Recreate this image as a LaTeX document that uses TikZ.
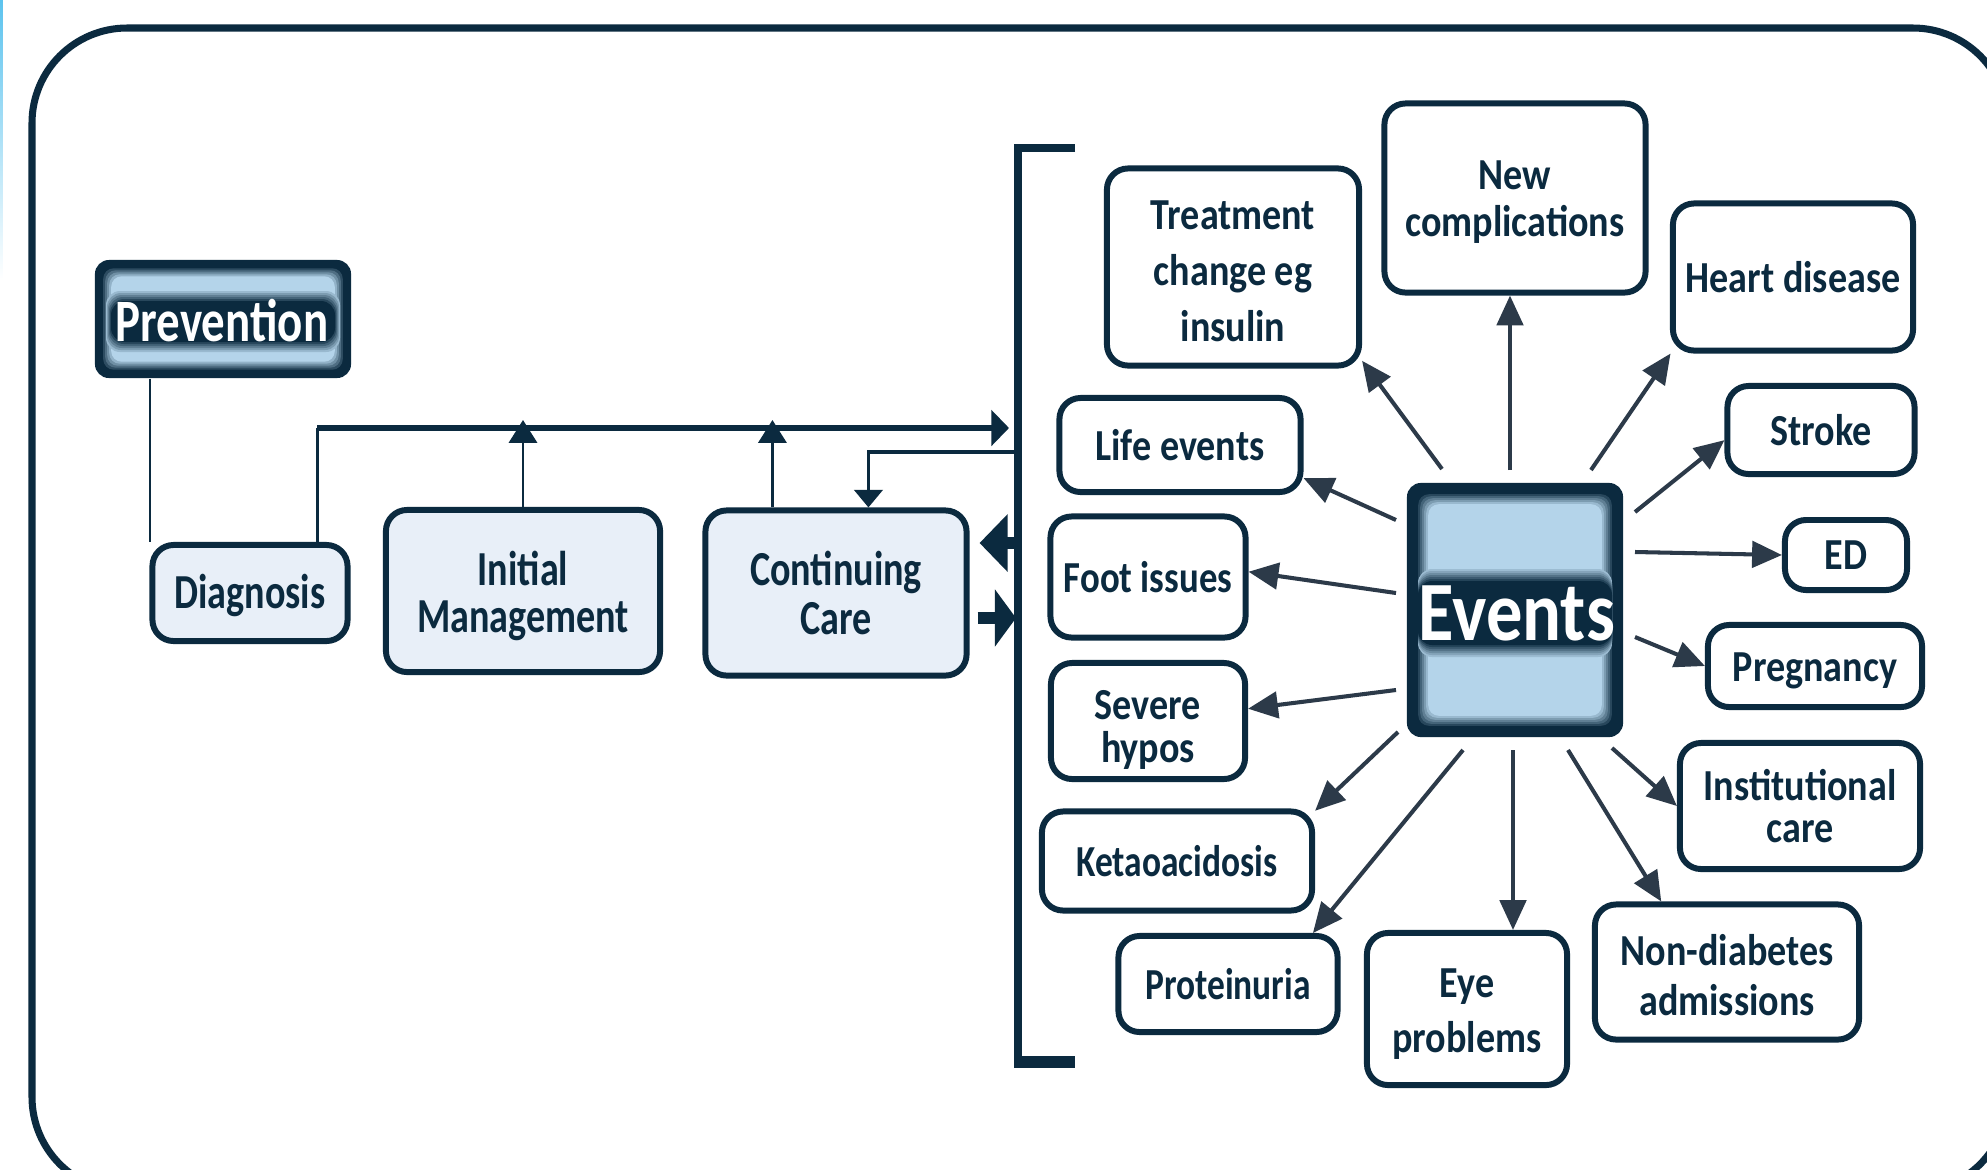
\documentclass[tikz,border=0pt]{standalone}
\usepackage{fontspec}
\setmainfont{Carlito}[FakeStretch=0.86]
\newfontfamily\narrowA{Carlito}[FakeStretch=0.78]
\newfontfamily\narrowB{Carlito}[FakeStretch=0.80]
\newfontfamily\narrowC{Carlito}[FakeStretch=0.83]
\usetikzlibrary{arrows.meta,calc}
\definecolor{navy}{HTML}{0B2A3F}
\definecolor{arrowc}{HTML}{2C3A49}
\definecolor{skyb}{HTML}{B4D4EA}
\definecolor{paleb}{HTML}{E8EFF8}
\definecolor{stripb}{HTML}{5CC3EE}
\newcommand\efont[1]{\fontsize{12.6pt}{#1}\selectfont\bfseries}
\newcommand\lfont[1]{\narrowA\fontsize{13.9pt}{#1}\selectfont\bfseries}
\newcommand\dn[1]{\rule{0pt}{\dimexpr\fontcharht\font`l+#1\relax}}
\tikzset{
  ebox/.style={draw=navy, line width=1.7pt, rounded corners=6pt, fill=white,
    align=center, inner sep=0pt, text=navy, font=\efont{13.6pt}},
  lbox/.style={ebox, fill=paleb, font=\lfont{13.5pt}},
  evarrow/.style={draw=arrowc, line width=1.15pt, -{Triangle[length=8.5pt,width=7.5pt]}},
  upar/.style={draw=navy, line width=0.85pt, -{Triangle[length=6.5pt,width=8pt]}},
}
\begin{document}
\begin{tikzpicture}[x=0.01cm,y=-0.01cm]
\useasboundingbox (0,0) rectangle (1987,1169);
\fill[white] (0,0) rectangle (1987,1169);
\shade[top color=stripb, bottom color=white] (0,0) rectangle (3,280);
\draw[navy, line width=2pt, rounded corners=0.95cm] (32,28) rectangle (2008,1192);

% ---------- Prevention ----------
\node[fill=navy, rounded corners=4pt, minimum width=2.56cm, minimum height=1.18cm, inner sep=0pt] (prev) at (223,319) {};
\foreach \k in {0,...,5} {
  \pgfmathtruncatemacro\p{100-\k*100/5}
  \fill[navy!\p!skyb, rounded corners=3pt] ($(prev.north west)+(7+\k*2,7+\k*2)$) rectangle ($(prev.south east)+(-7-\k*2,-7-\k*2)$);
}
\foreach \k in {0,...,5} {
  \pgfmathtruncatemacro\p{(\k+1)*100/6}
  \fill[navy!\p!skyb, rounded corners=4pt] (106+\k,291+\k*2) rectangle (340-\k,352-\k*2);
}
\node[text=white, font={\narrowA\fontsize{17.1pt}{18pt}\selectfont\bfseries}, inner sep=0pt] (prevtxt) at (222,321) {Prevention};

% ---------- left boxes ----------
\node[lbox, minimum width=1.95cm, minimum height=0.96cm] (diag) at (250,593) {\dn{1.4pt}Diagnosis};
\node[lbox, minimum width=2.74cm, minimum height=1.62cm, font=\lfont{13.4pt}] (im) at (523,591) {\dn{2.8pt}Initial\\Management};
\node[lbox, minimum width=2.61cm, minimum height=1.65cm, font=\lfont{13.7pt}] (cc) at (836,593) {Continuing\\Care};

% ---------- bracket ----------
\draw[navy, line width=2.4pt] (1075,148) -- (1018,148) -- (1018,1062) -- (1075,1062);
\draw[navy, line width=3.4pt] (1014,1062) -- (1075,1062);
\coordinate (bA) at (1009,428);
\coordinate (bB) at (1014,452);
\coordinate (bL) at (1015,543);
\coordinate (bR) at (1016,618);

% ---------- left connectors ----------
\coordinate (p1) at ($(prev.south west)+(56,0)$);
\draw[navy, line width=0.7pt] (p1) -- (p1 |- diag.north);
\coordinate (d1) at ($(diag.north west)+(168,0)$);
\draw[navy, line width=0.7pt] (d1) -- (d1 |- bA);
\draw[navy, line width=1.7pt, -{Triangle[length=5pt,width=10pt]}] (d1 |- bA) -- (bA);
\draw[upar] (im.north) -- ($(im.north |- bA)+(0,-8)$);
\coordinate (c1) at ($(cc.north west)+(70,0)$);
\draw[upar] (c1) -- ($(c1 |- bA)+(0,-8)$);
\draw[navy, line width=1.1pt, -{Triangle[length=5pt,width=8pt]}] (bB) -| ($(cc.north west)+(166,0)$);
\draw[navy, line width=3.4pt, -{Triangle[length=8pt,width=16pt]}] (bL) -- ($(cc.east |- bL)+(10,0)$);
\draw[navy, line width=3.4pt, -{Triangle[length=6pt,width=16pt]}] ($(cc.east |- bR)+(8,0)$) -- (bR);

% ---------- Events ----------
\node[fill=navy, rounded corners=4pt, minimum width=2.16cm, minimum height=2.54cm, inner sep=0pt] (ev) at (1515,610) {};
\foreach \k in {0,...,6} {
  \pgfmathtruncatemacro\p{100-\k*100/6}
  \fill[navy!\p!skyb, rounded corners=3pt] ($(ev.north west)+(10+\k*2,10+\k*2)$) rectangle ($(ev.south east)+(-10-\k*2,-10-\k*2)$);
}
\foreach \k in {0,...,6} {
  \pgfmathtruncatemacro\p{(\k+1)*100/7}
  \fill[navy!\p!skyb, rounded corners=4pt] (1418,569+\k*2) rectangle (1612,657-\k*2);
}
\node[text=white, font=\fontsize{24pt}{24pt}\selectfont\bfseries, inner sep=0pt] (evtxt) at (1517,613) {Events};

% ---------- event boxes ----------
\node[ebox, minimum width=2.52cm, minimum height=1.97cm, font=\efont{15.9pt}] (treat) at (1233,267) {\dn{2pt}Treatment\\change eg\\insulin};
\node[ebox, minimum width=2.61cm, minimum height=1.89cm, font=\efont{13.4pt}] (newc) at (1515,198) {\dn{1.5pt}New\\complications};
\node[ebox, minimum width=2.40cm, minimum height=1.47cm] (heart) at (1793,277) {Heart disease};
\node[ebox, minimum width=1.87cm, minimum height=0.88cm] (stroke) at (1821,430) {Stroke};
\node[ebox, minimum width=1.22cm, minimum height=0.70cm] (ed) at (1846,555) {ED};
\node[ebox, minimum width=2.14cm, minimum height=0.82cm] (preg) at (1815,666) {\dn{2pt}Pregnancy};
\node[ebox, minimum width=2.40cm, minimum height=1.26cm, font=\efont{12pt}] (inst) at (1800,806) {Institutional\\care};
\node[ebox, minimum width=2.64cm, minimum height=1.35cm, font=\efont{14.2pt}] (nond) at (1727,972) {\dn{1.7pt}Non-diabetes\\admissions};
\node[ebox, minimum width=2.00cm, minimum height=1.52cm, font=\efont{15.6pt}] (eye) at (1467,1009) {\dn{2pt}Eye\\problems};
\node[ebox, minimum width=2.19cm, minimum height=0.96cm, font={\narrowB\efont{13.6pt}}] (prot) at (1228,984) {Proteinuria};
\node[ebox, minimum width=2.70cm, minimum height=0.99cm, font={\narrowB\efont{13.6pt}}] (keto) at (1177,861) {Ketaoacidosis};
\node[ebox, minimum width=1.94cm, minimum height=1.16cm, font=\efont{12.2pt}] (severe) at (1148,721) {\dn{4.3pt}Severe\\hypos};
\node[ebox, minimum width=1.95cm, minimum height=1.21cm, font={\narrowC\efont{13.6pt}}] (foot) at (1148,577) {Foot issues};
\node[ebox, minimum width=2.41cm, minimum height=0.94cm] (life) at (1180,445) {Life events};

% ---------- event arrows ----------
\coordinate (sLife) at (1396,520);
\coordinate (sFoot) at (1396,593);
\coordinate (sSev) at (1396,690);
\coordinate (sTreat) at (1442,469);
\coordinate (sNew) at (1510,470);
\coordinate (sHeart) at (1591,470);
\coordinate (sStroke) at (1635,512);
\coordinate (sED) at (1635,552);
\coordinate (sPreg) at (1635,637);
\coordinate (sInst) at (1612,748);
\coordinate (sNond) at (1568,750);
\coordinate (sEye) at (1513,750);
\coordinate (sProt) at (1463,750);
\coordinate (sKeto) at (1398,732);

\draw[evarrow] (sLife) -- (life.-15);
\draw[evarrow] (sFoot) -- (foot.3);
\draw[evarrow] (sSev) -- (severe.7);
\draw[evarrow] (sTreat) -- (treat.-36);
\draw[evarrow] (sNew) -- (sNew |- newc.south);
\draw[evarrow] (sHeart) -- (heart.212);
\draw[evarrow] (sStroke) -- (stroke.186);
\draw[evarrow] (sED) -- (ed.west);
\draw[evarrow] (sPreg) -- (preg.west);
\draw[evarrow] (sInst) -- (inst.west);
\draw[evarrow] (sNond) -- (nond.133);
\draw[evarrow] (sEye) -- (sEye |- eye.north);
\draw[evarrow] (sProt) -- (prot.31);
\draw[evarrow] (sKeto) -- (keto.20);
\end{tikzpicture}
\end{document}
